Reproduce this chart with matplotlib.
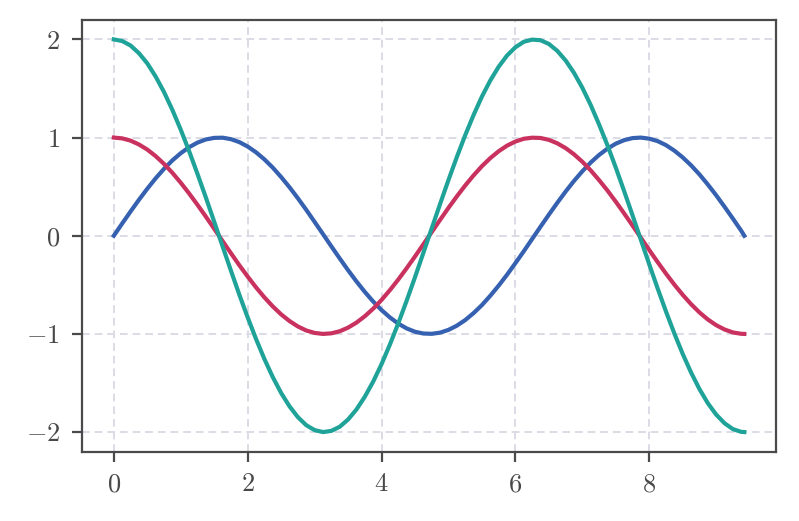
import matplotlib
matplotlib.use("Agg")
import matplotlib.pyplot as plt

x = [0, 0.125, 0.25, 0.375, 0.5, 0.625, 0.75, 0.875,
     1.0, 1.125, 1.25, 1.375, 1.5, 1.625, 1.75, 1.875,
     2.0, 2.125, 2.25, 2.375, 2.5, 2.625, 2.75, 2.875,
     3.0, 3.125, 3.25, 3.375, 3.5, 3.625, 3.75, 3.875,
     4.0, 4.125, 4.25, 4.375, 4.5, 4.625, 4.75, 4.875,
     5.0, 5.125, 5.25, 5.375, 5.5, 5.625, 5.75, 5.875,
     6.0, 6.125, 6.25, 6.375, 6.5, 6.625, 6.75, 6.875,
     7.0, 7.125, 7.25, 7.375, 7.5, 7.625, 7.75, 7.875,
     8.0, 8.125, 8.25, 8.375, 8.5, 8.625, 8.75, 8.875,
     9.0, 9.125, 9.25, 9.375, 9.42]

sin_vals = [0, 0.125, 0.247, 0.366, 0.479, 0.585, 0.682, 0.768,
            0.841, 0.902, 0.949, 0.981, 0.997, 0.999, 0.984, 0.954,
            0.909, 0.850, 0.778, 0.694, 0.598, 0.494, 0.382, 0.264,
            0.141, 0.017, -0.108, -0.231, -0.351, -0.465, -0.572, -0.670,
            -0.757, -0.832, -0.895, -0.944, -0.978, -0.996, -0.999, -0.987,
            -0.959, -0.916, -0.859, -0.788, -0.706, -0.611, -0.508, -0.397,
            -0.279, -0.158, -0.033, 0.092, 0.215, 0.335, 0.450, 0.558,
            0.657, 0.746, 0.823, 0.887, 0.938, 0.974, 0.995, 1.000,
            0.989, 0.964, 0.923, 0.867, 0.798, 0.717, 0.625, 0.522,
            0.412, 0.295, 0.174, 0.050, 0.0]

cos_vals = [1.000, 0.992, 0.969, 0.930, 0.878, 0.811, 0.732, 0.641,
            0.540, 0.431, 0.315, 0.195, 0.071, -0.054, -0.178, -0.300,
            -0.416, -0.526, -0.628, -0.720, -0.801, -0.869, -0.924, -0.965,
            -0.990, -1.000, -0.994, -0.973, -0.936, -0.885, -0.820, -0.743,
            -0.654, -0.554, -0.446, -0.331, -0.211, -0.087, 0.038, 0.162,
            0.284, 0.401, 0.512, 0.615, 0.709, 0.791, 0.861, 0.918,
            0.960, 0.988, 0.999, 0.996, 0.977, 0.942, 0.893, 0.830,
            0.754, 0.666, 0.567, 0.461, 0.347, 0.227, 0.104, -0.021,
            -0.146, -0.268, -0.386, -0.498, -0.602, -0.697, -0.781, -0.853,
            -0.911, -0.955, -0.985, -0.999, -1.000]

cos2_vals = [2.000, 1.984, 1.938, 1.860, 1.756, 1.622, 1.464, 1.282,
             1.080, 0.862, 0.630, 0.390, 0.142, -0.108, -0.356, -0.600,
             -0.832, -1.052, -1.256, -1.440, -1.602, -1.738, -1.848, -1.930,
             -1.980, -2.000, -1.988, -1.946, -1.872, -1.770, -1.640, -1.486,
             -1.308, -1.108, -0.892, -0.662, -0.422, -0.174, 0.076, 0.324,
             0.568, 0.802, 1.024, 1.230, 1.418, 1.582, 1.722, 1.836,
             1.920, 1.976, 1.998, 1.992, 1.954, 1.884, 1.786, 1.660,
             1.508, 1.332, 1.134, 0.922, 0.694, 0.454, 0.208, -0.042,
             -0.292, -0.536, -0.772, -0.996, -1.204, -1.394, -1.562, -1.706,
             -1.822, -1.910, -1.970, -1.998, -2.000]

plt.rcParams['font.family'] = 'serif'
plt.rcParams['font.serif'] = ['cmr10']
plt.rcParams['mathtext.fontset'] = 'cm'
plt.rcParams['axes.formatter.use_mathtext'] = True

spine_col = '#4a4a4a'
fig, ax = plt.subplots(figsize=(7.99, 5.21), dpi=100)
fig.subplots_adjust(left=0.103, right=0.971, top=0.962, bottom=0.133)

# blue first, teal ends up on top
ax.plot(x, sin_vals, color='#3561b0', lw=3.0, zorder=3)
ax.plot(x, cos_vals, color='#c9315f', lw=3.0, zorder=3)
ax.plot(x, cos2_vals, color='#1fa399', lw=3.0, zorder=3)

ax.grid(True, ls=(0, (4, 2.5)), color='#dcdce6', lw=1.4)
ax.set_xticks([0, 2, 4, 6, 8])
ax.set_yticks([-2, -1, 0, 1, 2])
for s in ax.spines.values():
    s.set_color(spine_col)
    s.set_linewidth(1.6)
ax.tick_params(direction='out', length=7, width=1.6, color=spine_col,
               labelcolor='#484848', labelsize=19)
ax.tick_params(axis='y', pad=9)
ax.tick_params(axis='x', pad=8)

fig.savefig('out.png', dpi=100)
